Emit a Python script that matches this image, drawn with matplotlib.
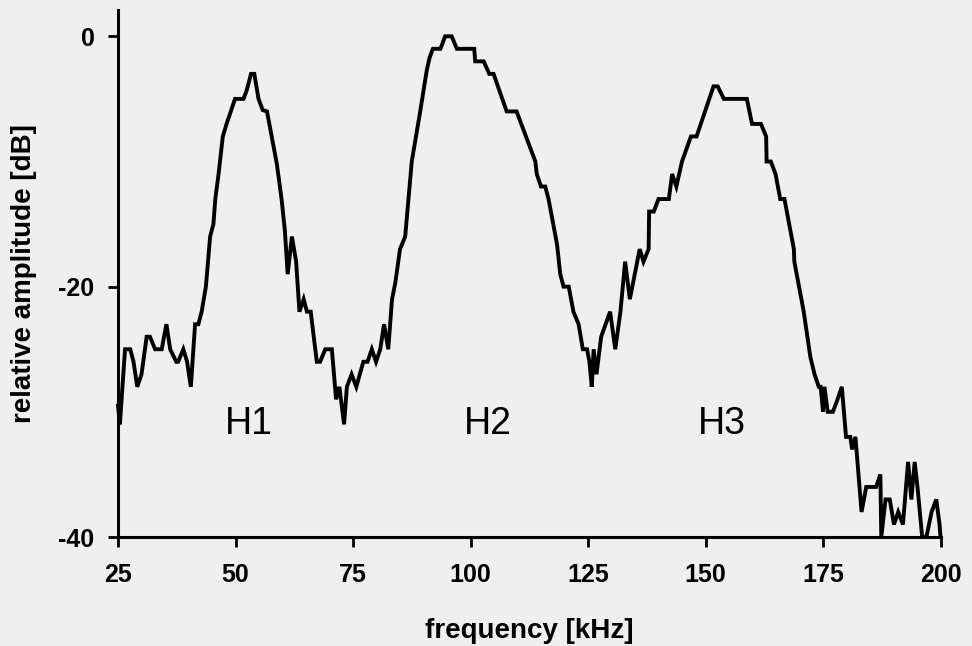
import matplotlib.pyplot as plt

# spectrum (vertices of the trace)
freq_khz = [25.0, 25.4, 26.5, 27.6, 28.3, 29.1, 30.0, 31.1, 31.8, 32.9, 34.3, 35.3, 36.1,
            37.4, 37.8, 38.9, 39.7, 40.5, 41.4, 42.1, 42.8, 43.7, 44.6, 45.3, 45.7, 46.4,
            47.3, 48.1, 49.9, 51.7, 52.4, 53.3, 54.0, 54.9, 55.8, 56.7, 57.7, 58.8, 59.8,
            60.5, 61.1, 62.0, 62.9, 63.6, 64.5, 65.2, 66.0, 67.3, 68.0, 69.1, 70.5, 71.4,
            72.1, 73.1, 73.7, 74.7, 75.7, 77.2, 78.1, 79.0, 79.9, 80.8, 81.6, 82.5, 83.3,
            84.0, 85.0, 86.1, 86.8, 87.5, 89.3, 90.7, 91.3, 92.0, 93.6, 94.6, 96.0, 97.1,
            100.8, 101.0, 102.8, 104.0, 104.9, 107.7, 109.8, 113.8, 114.1, 115.0, 115.9,
            116.6, 118.4, 119.1, 119.8, 120.9, 121.9, 123.0, 123.9, 124.8, 125.3, 125.8,
            126.2, 126.8, 127.8, 129.7, 130.8, 131.9, 132.9, 133.9, 136.0, 136.8, 137.9,
            138.0, 139.0, 140.0, 142.2, 142.9, 143.8, 145.0, 146.9, 148.1, 151.7, 152.6,
            153.9, 158.8, 159.9, 161.8, 162.9, 163.0, 163.9, 164.9, 165.9, 166.8, 168.8,
            168.9, 170.9, 172.3, 173.2, 174.1, 174.5, 175.0, 175.3, 176.0, 177.1, 178.1,
            179.0, 179.9, 180.8, 181.2, 181.9, 183.2, 184.2, 186.3, 187.2, 187.4, 188.3,
            189.2, 190.1, 191.0, 192.0, 193.1, 193.8, 194.5, 195.1, 196.1, 197.0, 198.1,
            199.1, 199.8, 200.0]
rel_db = [-29.5, -31, -25, -25, -26, -28, -27, -24, -24, -25, -25, -23, -25,
          -26, -26, -25, -26, -28, -23, -23, -22, -20, -16, -15, -13, -11,
          -8, -7, -5, -5, -4.3, -3, -3, -5, -5.9, -6, -8, -10.2, -13,
          -15.5, -19, -16, -18, -22, -21, -22, -22, -26, -26, -25, -25, -29,
          -28, -31, -28, -27, -28, -26, -26, -25, -26, -25, -23, -25, -21,
          -19.7, -17, -16, -13, -10, -6, -2.7, -1.7, -1, -1, 0, 0, -1,
          -1, -2, -2, -3, -3, -6, -6, -10, -11, -12, -12,
          -13, -16.6, -19, -20, -20, -22, -23, -25, -25, -26, -28,
          -25, -27, -24, -22, -25, -22, -18, -21, -17, -18, -17,
          -14, -14, -13, -13, -11, -12, -10, -8, -8, -4, -4,
          -5, -5, -7, -7, -8, -10, -10, -11, -13, -13, -17,
          -18, -22, -25.6, -27, -28, -28, -30, -28, -30, -30, -29,
          -28, -32, -32, -33, -32, -38, -36, -36, -35, -40, -37,
          -37, -39, -38, -39, -34, -37, -34, -36, -40, -40, -38,
          -37, -39, -40]

peak_names = ["H1", "H2", "H3"]
peak_x = [52.8, 103.6, 153.4]
peak_y = [-31.0, -31.0, -31.0]

plt.rcParams['font.family'] = ['Liberation Sans', 'DejaVu Sans']
plt.rcParams['axes.unicode_minus'] = False
bg = '#efefef'

fig = plt.figure(figsize=(9.72, 6.46), dpi=100, facecolor=bg)
ax = fig.add_axes([0.1214, 0.1687, 0.8462, 0.8158], facecolor=bg)

ax.plot(freq_khz, rel_db, color='black', linewidth=2.8, clip_on=False,
        solid_joinstyle='miter')

for name, x, y in zip(peak_names, peak_x, peak_y):
    ax.text(x, y, name, fontsize=27, ha='center', va='center', color='black')

ax.set_xlim(25, 200)
ax.set_ylim(-40, 2.1)
ax.set_xticks([25, 50, 75, 100, 125, 150, 175, 200])
ax.set_yticks([0, -20, -40])

for s in ['top', 'right']:
    ax.spines[s].set_visible(False)
for s in ['left', 'bottom']:
    ax.spines[s].set_linewidth(2.2)

ax.tick_params(direction='out', length=7, width=2, labelsize=18)
ax.tick_params(axis='x', pad=12)
ax.tick_params(axis='y', pad=10)
for lab in ax.get_xticklabels() + ax.get_yticklabels():
    lab.set_fontweight('bold')

ax.set_xlabel('frequency [kHz]', fontsize=20, fontweight='bold', labelpad=22)
ax.set_ylabel('relative amplitude [dB]', fontsize=20, fontweight='bold')
ax.yaxis.set_label_coords(-0.099, 0.5)

fig.savefig('out.png', dpi=100, facecolor=bg)
